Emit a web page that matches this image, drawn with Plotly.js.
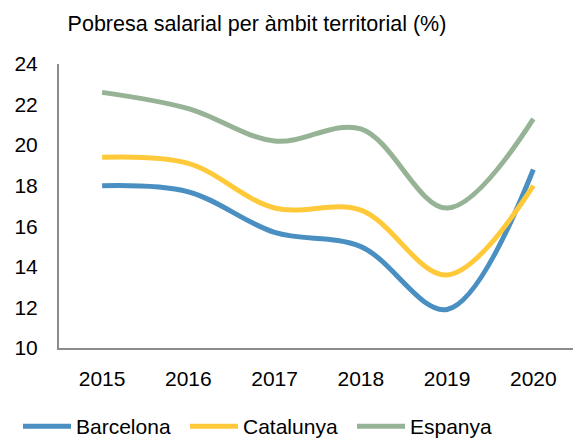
<!DOCTYPE html>
<html>
<head>
<meta charset="utf-8">
<script src="https://cdn.plot.ly/plotly-3.0.1.min.js"></script>
<style>html,body{margin:0;padding:0;background:#fff;}#chart{width:573px;height:439px;}</style>
</head>
<body>
<div id="chart"></div>
<script>
const years = ["2015", "2016", "2017", "2018", "2019", "2020"];
const barcelona = [18.0, 17.7, 15.7, 15.0, 11.9, 18.8];
const catalunya = [19.4, 19.1, 16.9, 16.8, 13.6, 18.0];
const espanya = [22.6, 21.8, 20.2, 20.8, 16.9, 21.3];
const seriesNames = ["Barcelona", "Catalunya", "Espanya"];
const yTicks = [10, 12, 14, 16, 18, 20, 22, 24];

const colors = ["#4a8fc2", "#ffc93a", "#97b395"];
const values = [barcelona, catalunya, espanya];
const font = "Liberation Sans, Arial, sans-serif";

const traces = values.map((v, i) => ({
  x: years,
  y: v,
  name: seriesNames[i],
  type: "scatter",
  mode: "lines",
  line: {color: colors[i], width: 5, shape: "spline", smoothing: 1},
  hoverinfo: "none"
}));

const layout = {
  width: 573,
  height: 439,
  margin: {l: 59, r: 0, t: 64, b: 91},
  paper_bgcolor: "#fff",
  plot_bgcolor: "#fff",
  font: {family: font, size: 21, color: "#000"},
  title: {
    text: "Pobresa salarial per àmbit territorial (%)",
    font: {family: font, size: 21.5, color: "#000"},
    xref: "container", x: 257 / 573, xanchor: "center",
    yref: "container", y: 1 - 23 / 439, yanchor: "middle"
  },
  xaxis: {
    type: "category",
    range: [-0.5, 5.46],
    showgrid: false,
    zeroline: false,
    showline: true,
    linecolor: "#8c8c8c",
    linewidth: 2,
    ticks: "outside",
    ticklen: 11,
    tickcolor: "rgba(0,0,0,0)",
    tickfont: {family: font, size: 21, color: "#000"},
    fixedrange: true
  },
  yaxis: {
    range: [10, 24],
    tickvals: yTicks,
    ticktext: yTicks.map(String),
    showgrid: false,
    zeroline: false,
    showline: true,
    linecolor: "#8c8c8c",
    linewidth: 2,
    ticks: "outside",
    ticklen: 15,
    tickcolor: "rgba(0,0,0,0)",
    tickfont: {family: font, size: 21, color: "#000"},
    fixedrange: true
  },
  showlegend: true,
  legend: {
    orientation: "h",
    xref: "container",
    x: 18 / 573, xanchor: "left",
    yref: "container",
    y: 1 - 406 / 439, yanchor: "top",
    font: {family: font, size: 21, color: "#000"},
    itemwidth: 48,
    entrywidth: 104,
    tracegroupgap: 0,
    bgcolor: "rgba(0,0,0,0)"
  }
};

Plotly.newPlot("chart", traces, layout, {displayModeBar: false, staticPlot: true});
</script>
</body>
</html>
